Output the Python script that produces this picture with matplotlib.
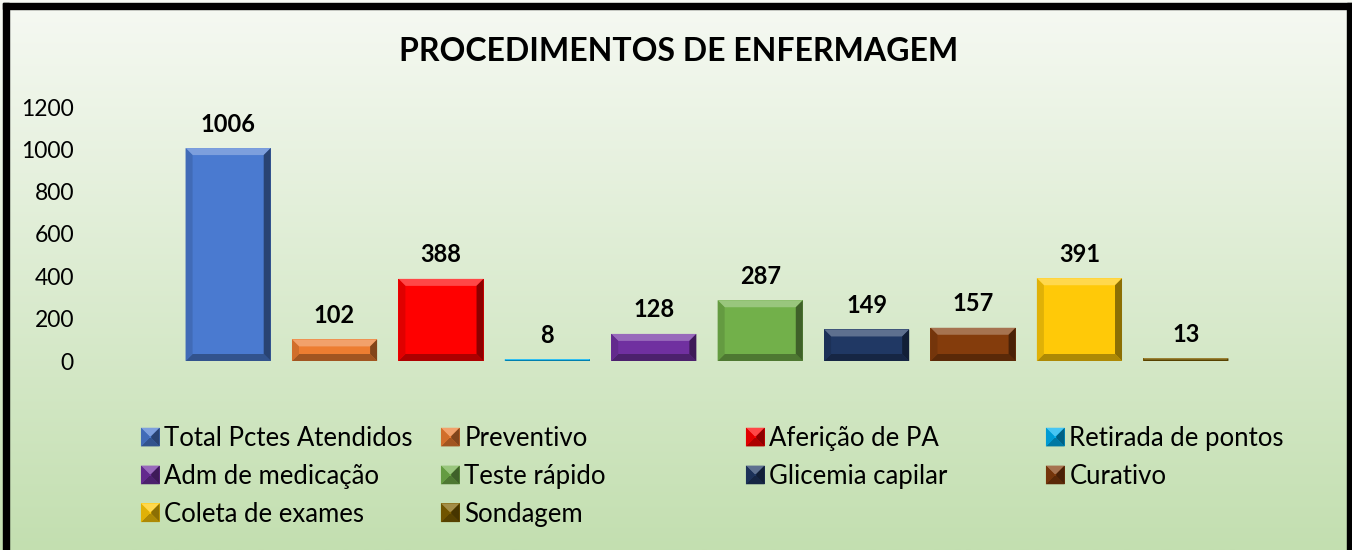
import numpy as np
import matplotlib
matplotlib.use("Agg")
import matplotlib.pyplot as plt
import matplotlib.colors as mcolors
from matplotlib.patches import Polygon, Rectangle
from matplotlib.transforms import IdentityTransform
from matplotlib.legend_handler import HandlerBase

plt.rcParams['font.family'] = ['Lato', 'DejaVu Sans']

title = "PROCEDIMENTOS DE ENFERMAGEM"
categories = ["Total Pctes Atendidos", "Preventivo", "Aferição de PA", "Retirada de pontos",
              "Adm de medicação", "Teste rápido", "Glicemia capilar", "Curativo",
              "Coleta de exames", "Sondagem"]
values = [1006, 102, 388, 8, 128, 287, 149, 157, 391, 13]
colors = ["#4A7AD0", "#ED7D31", "#FF0000", "#00B0F0", "#7030A0",
          "#72B04A", "#203864", "#843C0C", "#FFC908", "#7F6000"]
yticks = [0, 200, 400, 600, 800, 1000, 1200]

W, H = 1352, 550
fig = plt.figure(figsize=(W / 100, H / 100), dpi=100)
fig.patch.set_facecolor("white")

# background gradient
bg = fig.add_axes([0, 0, 1, 1], zorder=-10)
top = np.array(mcolors.to_rgb("#F6F9F3"))
bot = np.array(mcolors.to_rgb("#C3DFB0"))
t = np.linspace(0, 1, 256)[:, None]
grad = top[None, :] * (1 - t) + bot[None, :] * t
bg.imshow(grad[:, None, :], aspect='auto', extent=[0, W, H, 0], interpolation='bilinear')
bg.set_xlim(0, W)
bg.set_ylim(H, 0)
bg.axis('off')
# border
bg.add_patch(Rectangle((3, 3), 6, H, color='black'))
bg.add_patch(Rectangle((3, 3), W, 6, color='black'))
bg.add_patch(Rectangle((1347, 3), 10, H, color='black'))


def mix(c, other, a):
    c = np.array(mcolors.to_rgb(c))
    o = np.array(mcolors.to_rgb(other))
    return tuple(c * (1 - a) + o * a)


def bevel_polys(x0, y0, x1, y1, b):
    return [
        ([(x0, y1), (x1, y1), (x1 - b, y1 - b), (x0 + b, y1 - b)], 'top'),
        ([(x0, y0), (x1, y0), (x1 - b, y0 + b), (x0 + b, y0 + b)], 'bottom'),
        ([(x0, y0), (x0 + b, y0 + b), (x0 + b, y1 - b), (x0, y1)], 'left'),
        ([(x1, y0), (x1, y1), (x1 - b, y1 - b), (x1 - b, y0 + b)], 'right'),
    ]


shade = {'top': ('white', 0.28), 'bottom': ('black', 0.32),
         'left': ('black', 0.12), 'right': ('black', 0.45)}

ax_left, ax_right = 85 / W, 1329 / W
ax_bottom, ax_top = (H - 361) / H, (H - 107) / H
ax = fig.add_axes([ax_left, ax_bottom, ax_right - ax_left, ax_top - ax_bottom])
ax.set_facecolor('none')
x = np.arange(len(values))
bars = ax.bar(x, values, width=0.8, color=colors, zorder=2)
ax.set_xlim(-1.345, 10.345)
ax.set_ylim(0, 1200)
ax.set_yticks(yticks)
ax.set_yticklabels([str(v) for v in yticks], fontsize=16.5)
ax.tick_params(axis='y', length=0, pad=8)
ax.set_xticks([])
for s in ax.spines.values():
    s.set_visible(False)

for bar, c, v in zip(bars, colors, values):
    (px0, py0), (px1, py1) = ax.transData.transform(
        [(bar.get_x(), 0), (bar.get_x() + bar.get_width(), bar.get_height())])
    b = min(7, (py1 - py0) / 2, (px1 - px0) / 2)
    for pts, side in bevel_polys(px0, py0, px1, py1, b):
        oc, a = shade[side]
        fig.add_artist(Polygon(pts, closed=True, facecolor=mix(c, oc, a), edgecolor='none',
                               transform=IdentityTransform(), zorder=3))
    ax.annotate(str(v), (bar.get_x() + bar.get_width() / 2, v), xytext=(0, 9),
                textcoords='offset points', ha='center', va='bottom',
                fontsize=17, fontweight='bold', zorder=4)

fig.text(0.502, 1 - 52 / H, title, ha='center', va='center', fontsize=23, fontweight='bold')


class BevelHandler(HandlerBase):
    def create_artists(self, legend, orig_handle, xdescent, ydescent, width, height, fontsize, trans):
        c = orig_handle.get_facecolor()
        s = min(width, height) * 0.95
        x0 = -xdescent + (width - s) / 2
        y0 = -ydescent + (height - s) / 2
        x1, y1 = x0 + s, y0 + s
        b = s * 0.45
        arts = [Rectangle((x0, y0), s, s, facecolor=c, edgecolor='none', transform=trans)]
        for pts, side in bevel_polys(x0, y0, x1, y1, b):
            oc, a = shade[side]
            arts.append(Polygon(pts, closed=True, facecolor=mix(c, oc, a), edgecolor='none', transform=trans))
        return arts


handles = [Rectangle((0, 0), 1, 1, facecolor=c) for c in colors]
col_x = [140, 440, 745, 1045]
for ci, cx in enumerate(col_x):
    idx = list(range(ci, len(categories), 4))
    leg = fig.legend([handles[i] for i in idx], [categories[i] for i in idx],
                     loc='upper left', bbox_to_anchor=(cx / W, 1 - 426 / H),
                     frameon=False, fontsize=18.5, handler_map={Rectangle: BevelHandler()},
                     handlelength=0.8, handleheight=0.8, handletextpad=0.15,
                     labelspacing=0.5, borderpad=0, borderaxespad=0)

fig.savefig("out.png", dpi=100)
